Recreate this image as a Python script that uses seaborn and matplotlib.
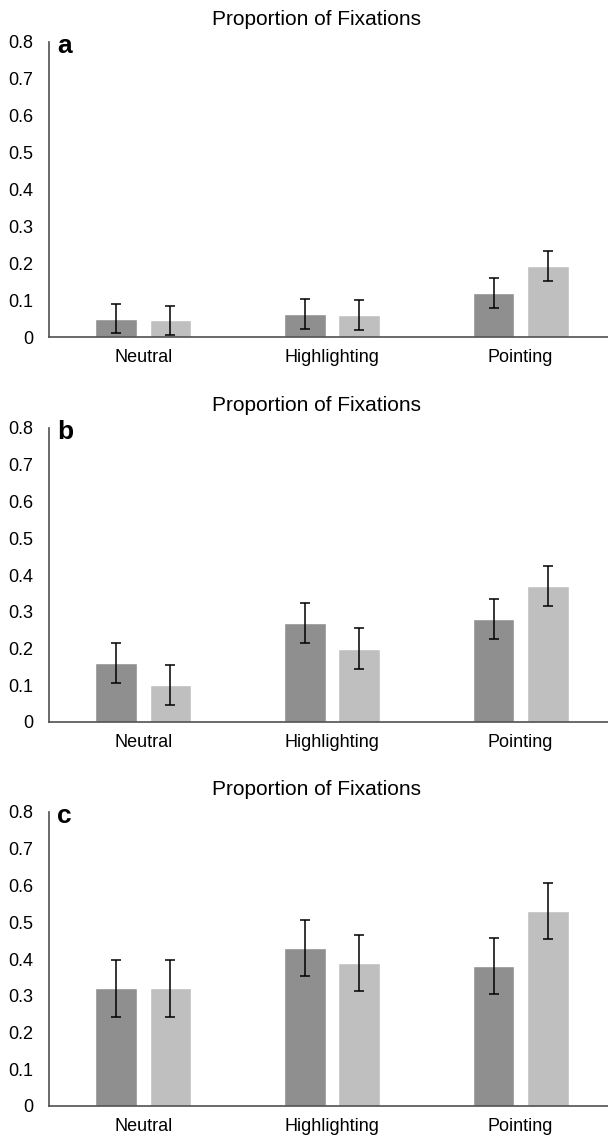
import pandas as pd
import seaborn as sns
import matplotlib.pyplot as plt

sns.set_theme(style='white')
plt.rcParams['font.family'] = ['Liberation Sans', 'DejaVu Sans']

# data
conditions = ['Neutral', 'Highlighting', 'Pointing']
groups = ['Dark', 'Light']
panels = ['a', 'b', 'c']

a_dark = [0.050, 0.063, 0.120]
a_light = [0.045, 0.060, 0.193]
a_err = [0.040, 0.041, 0.040]

b_dark = [0.160, 0.270, 0.280]
b_light = [0.100, 0.200, 0.370]
b_err = [0.055, 0.055, 0.055]

c_dark = [0.320, 0.430, 0.380]
c_light = [0.320, 0.390, 0.530]
c_err = [0.077, 0.076, 0.076]

panel_data = {
    'a': (a_dark, a_light, a_err),
    'b': (b_dark, b_light, b_err),
    'c': (c_dark, c_light, c_err),
}

fig = plt.figure(figsize=(6.08, 11.36), dpi=100)

# pixel rows of the zero line and the 0.8 line for each panel
zero_px = {'a': 337, 'b': 722, 'c': 1106}
top_px = {'a': 42, 'b': 428, 'c': 812}

for p in panels:
    dark, light, err = panel_data[p]
    df = pd.DataFrame({
        'condition': conditions * 2,
        'group': ['Dark'] * 3 + ['Light'] * 3,
        'value': dark + light,
        'err': err + err,
    })

    bottom = 1 - zero_px[p] / 1136
    height = (zero_px[p] - top_px[p]) / 1136
    ax = fig.add_axes([49 / 608, bottom, 566 / 608, height])

    sns.barplot(data=df, x='condition', y='value', hue='group', order=conditions,
                hue_order=groups, palette=['#8f8f8f', '#bfbfbf'], width=0.574, gap=0.23,
                errorbar=None, saturation=1, legend=False, ax=ax)

    # error bars at the bar centres
    for bar_group, g in zip(ax.containers, groups):
        sub = df[df['group'] == g].set_index('condition').loc[conditions]
        xs = [b.get_x() + b.get_width() / 2 for b in bar_group]
        ax.errorbar(xs, sub['value'], yerr=sub['err'], fmt='none', ecolor='black',
                    elinewidth=1.1, capsize=3.5, capthick=1.1)

    ax.set_xlim(-0.5, 2.5)
    ax.set_ylim(0, 0.8)
    ax.set_yticks([0, 0.1, 0.2, 0.3, 0.4, 0.5, 0.6, 0.7, 0.8])
    ax.set_yticklabels(['0', '0.1', '0.2', '0.3', '0.4', '0.5', '0.6', '0.7', '0.8'])
    ax.tick_params(axis='both', length=0, labelsize=13, colors='black')
    ax.tick_params(axis='y', pad=11.5)
    ax.tick_params(axis='x', pad=8.5)
    ax.set_xlabel('')
    ax.set_ylabel('')
    for s in ['top', 'right']:
        ax.spines[s].set_visible(False)
    for s in ['left', 'bottom']:
        ax.spines[s].set_color('#505050')
        ax.spines[s].set_linewidth(1.2)

    ax.set_title('Proportion of Fixations', x=0.472, pad=12, fontsize=15, color='black')
    ax.text(0.014, 0.963, p, transform=ax.transAxes, fontsize=19, fontweight='bold',
            va='baseline', ha='left', color='black')

fig.savefig('out.png', dpi=100)
